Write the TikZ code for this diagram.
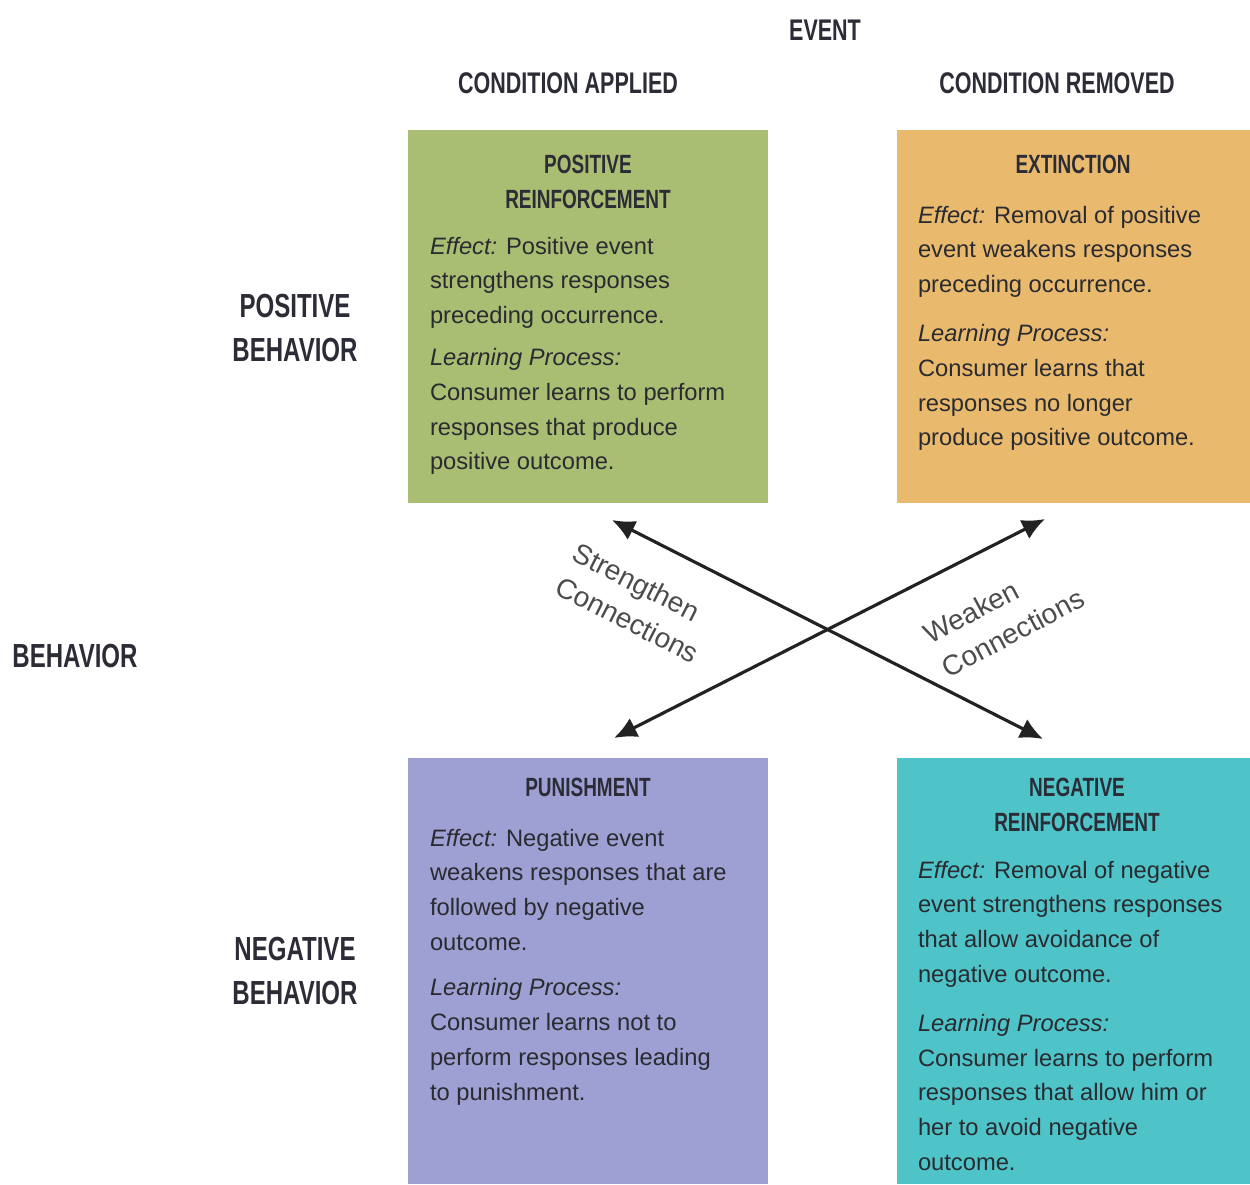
\documentclass[tikz,border=0pt]{standalone}
\usepackage{fontspec}
\setmainfont{Liberation Sans}
\newfontfamily\condfont{Liberation Sans}[FakeStretch=0.72]
\usetikzlibrary{positioning, arrows.meta}
\definecolor{posgreen}{HTML}{A9BD73}
\definecolor{extorange}{HTML}{E9BA6E}
\definecolor{punpurple}{HTML}{9E9FD2}
\definecolor{negteal}{HTML}{4EC3C8}
\definecolor{headink}{HTML}{2B2C36}
\definecolor{bodyink}{HTML}{2A2B30}
\definecolor{arrowink}{HTML}{222222}
\definecolor{labink}{HTML}{4C4C4C}
\newcommand{\effectlbl}{\textit{Effect:}}
\newcommand{\learnlbl}{\textit{Learning Process:}}

\begin{document}
\begin{tikzpicture}[x=0.02cm, y=-0.02cm,
		every node/.style={inner sep=0pt, outer sep=0pt},
		box/.style={rectangle, anchor=north west, minimum height=7.46cm},
		tallbox/.style={rectangle, anchor=north west, minimum height=8.52cm},
		boxtitle/.style={anchor=north, align=center, text=headink, font=\condfont\bfseries\fontsize{15}{19.8}\selectfont},
		boxbody/.style={anchor=north west, align=left, text=bodyink, font=\fontsize{13.5}{19.8}\selectfont},
		colhead/.style={text=headink, font=\condfont\bfseries\fontsize{17}{20}\selectfont},
		rowhead/.style={align=center, text=headink, font=\condfont\bfseries\fontsize{19}{25.5}\selectfont},
		conn/.style={draw=arrowink, line width=1.8pt, {Latex[length=13pt,width=12pt]}-{Latex[length=13pt,width=12pt]}},
		connlab/.style={align=left, text=labink, font=\fontsize{16}{21.5}\selectfont}]
				\useasboundingbox (0,0) rectangle (1250,1184);

				% headings
				\node[colhead] (event) at (825,30) {EVENT};
				\node[colhead] (applied) at (568,83) {CONDITION APPLIED};
				\node[colhead] (removed) at (1057,83) {CONDITION REMOVED};
				\node[rowhead] (posbeh) at (295,328) {POSITIVE\\BEHAVIOR};
				\node[rowhead] (behav) at (75,656) {BEHAVIOR};
				\node[rowhead] (negbeh) at (295,971) {NEGATIVE\\BEHAVIOR};

				% the four cells
				\node[box, fill=posgreen, minimum width=7.2cm] (posrf) at (408,130) {};
				\node[box, fill=extorange, minimum width=7.06cm] (extin) at (897,130) {};
				\node[tallbox, fill=punpurple, minimum width=7.2cm] (punish) at (408,758) {};
				\node[tallbox, fill=negteal, minimum width=7.06cm] (negrf) at (897,758) {};

				\node[boxtitle] (posrf-t) at (588,155) {POSITIVE\\REINFORCEMENT};
				\node[boxbody] (posrf-b) at (430,237) {\effectlbl{} Positive event\\strengthens responses\\preceding occurrence.\\[4pt]
					\learnlbl\\Consumer learns to perform\\responses that produce\\positive outcome.};

				\node[boxtitle] (extin-t) at (1073,155) {EXTINCTION};
				\node[boxbody] (extin-b) at (918,206) {\effectlbl{} Removal of positive\\event weakens responses\\preceding occurrence.\\[8pt]
					\learnlbl\\Consumer learns that\\responses no longer\\produce positive outcome.};

				\node[boxtitle] (punish-t) at (588,778) {PUNISHMENT};
				\node[boxbody] (punish-b) at (430,829) {\effectlbl{} Negative event\\weakens responses that are\\followed by negative\\outcome.\\[6pt]
					\learnlbl\\Consumer learns not to\\perform responses leading\\to punishment.};

				\node[boxtitle] (negrf-t) at (1077,778) {NEGATIVE\\REINFORCEMENT};
				\node[boxbody] (negrf-b) at (918,861) {\effectlbl{} Removal of negative\\event strengthens responses\\that allow avoidance of\\negative outcome.\\[8pt]
					\learnlbl\\Consumer learns to perform\\responses that allow him or\\her to avoid negative\\outcome.};

				% crossing arrows
				\coordinate (pos-end) at (612,520);
				\coordinate (ext-end) at (1045,519);
				\coordinate (pun-end) at (614,738);
				\coordinate (neg-end) at (1043,739);

				\draw[conn] (pos-end) -- (neg-end);
				\draw[conn] (ext-end) -- (pun-end);

				\node[connlab, rotate=-27] (strong) at (636,603) {Strengthen\\Connections};
				\node[connlab, rotate=28] (weak) at (1004,616) {Weaken\\Connections};
			\end{tikzpicture}
\end{document}
